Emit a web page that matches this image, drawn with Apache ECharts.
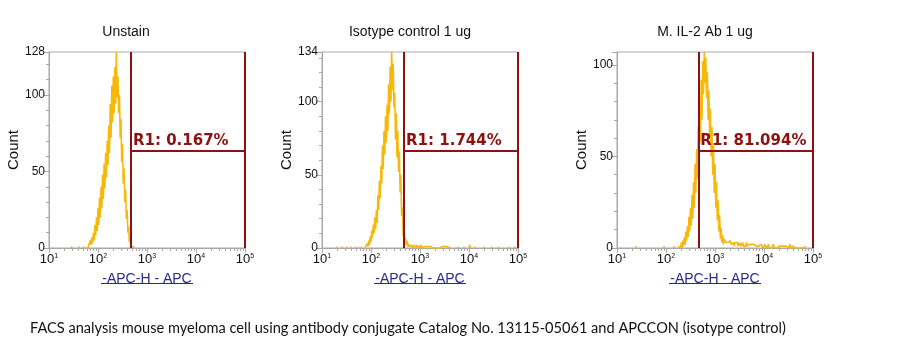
<!DOCTYPE html>
<html><head><meta charset="utf-8">
<script src="https://cdn.jsdelivr.net/npm/echarts@6/dist/echarts.min.js"></script>
<style>html,body{margin:0;padding:0;background:#fff}#c{width:905px;height:362px}</style>
</head><body><div id="c"></div>
<script>
// ---------- data ----------
const panelTitles = ['Unstain', 'Isotype control 1 ug', 'M. IL-2 Ab 1 ug'];
const yMax = [128, 134, 107];
const showYMaxLabel = [true, true, false];
const xMin = 10, xMax = 100000;
const minorTickValues = [20,30,40,50,60,70,80,90,200,300,400,500,600,700,800,900,2000,3000,4000,5000,6000,7000,8000,9000,20000,30000,40000,50000,60000,70000,80000,90000];
const gateLeft = [470, 473, 457];
const gateRight = [97000, 97000, 97000];
const gateLevel = [63.5, 66.5, 53];
const gateLabels = ['R1: 0.167%', 'R1: 1.744%', 'R1: 81.094%'];
const xAxisName = '-APC-H - APC';
const yAxisName = 'Count';
const caption = 'FACS analysis mouse myeloma cell using antibody conjugate Catalog No. 13115-05061 and APCCON (isotype control)';
const channelsPerDecade = 64; // 256 channels over 4 decades

// histogram counts per channel
const unstainStart = 48;
const unstainCounts = [0,0,1,0,2,1,5,2,7,3, 10,5,15,8,20,11,26,15,33,20, 40,26,48,32,55,39,62,46,70,54, 80,62,94,72,106,82,112,88,118,94, 128,98,112,88,100,72,84,56,68,42, 52,30,38,19,25,10,14,4,6,1, 2,0,1,0];
const unstainBlips = [[30,1],[40,1],[46,1]];

const isoStart = 56;
const isoCounts = [0,1,0,3,1,5,2,8,4,12, 7,16,10,21,13,26,17,36,26,46, 34,56,44,70,54,80,64,90,72,98, 80,112,92,124,100,134,108,126,96,106, 74,92,62,80,52,66,38,50,22,28, 8,14,4,7,2,5,1,
  3,1,2,1,2,0,1,2,1,1,0,2,1,0,1,1,2,0,1,0,1,2,0,1,1,0,1,0,2,1,0,1,0,1,1,0,0,1,0,1,0,0,1,0,1,0,0,1,0,0,1,0,0,0,1,0];
const isoBlips = [[20,1],[27,1],[33,1],[38,1],[44,1],[48,1],[52,1],[178,1],[186,1],[193,2],[200,1],[212,1],[222,1],[231,1],[245,1],[252,1]];

const il2Start = 80;
const il2Counts = [1,0,1,0,3,0,4,1,6,2, 9,4,12,6,17,9,22,12,29,16, 36,22,46,30,54,38,66,46,80,58, 92,70,102,84,107,90,104,82,96,70, 86,60,76,50,66,40,56,30,46,22, 36,15,26,9,18,5,11,3,7,2, 5,
  4,3,2,4,3,2,3,4,2,3, 2,3,1,3,2,2,3,1,2,3, 2,1,2,3,1,2,2,1,3,1, 2,1,2,2,1,2,1,1,2,1, 2,1,1,2,1,0,1,2,1,1, 0,1,2,1,0,1,1,2,0,1, 1,0,1,2,1,0,1,1,0,1, 0,1,2,0,1,1,0,1,0,1, 1,0,1,0,1,2,0,1,0,1, 0,1,0,0,1,0,1,1,0,0, 1,0,1,0,0,1];
const il2Blips = [[25,1],[62,1],[75,1]];

// ---------- build ----------
const chToVal = c => xMin * Math.pow(10, c / channelsPerDecade);
function buildSeriesData(start, counts, blips) {
  const out = counts.map((v, k) => [chToVal(start + k), v]);
  blips.forEach(([c, n]) => {
    out.push([chToVal(c - 1), null]);
    out.push([chToVal(c - 1), 0], [chToVal(c), n], [chToVal(c + 1), 0]);
  });
  return out;
}
const histData = [
  buildSeriesData(unstainStart, unstainCounts, unstainBlips),
  buildSeriesData(isoStart, isoCounts, isoBlips),
  buildSeriesData(il2Start, il2Counts, il2Blips)
];

const gridLayout = [
  {left: 49, top: 52, width: 196, height: 196},
  {left: 322, top: 52, width: 196, height: 196},
  {left: 617, top: 52, width: 196, height: 196}
];
const titleCenters = [126, 410, 705];
const axisGray = '#a8a8a8';
const gateColor = '#8e1111';
const histColor = '#f6b90a';
const nameBlue = '#2b2b8f';

const grids = [], xAxes = [], yAxes = [], series = [], titles = [], graphics = [];
for (let i = 0; i < 3; i++) {
  const g = gridLayout[i];
  grids.push(Object.assign({show: true, borderColor: axisGray, borderWidth: 1, containLabel: false}, g));
  xAxes.push({
    type: 'log', logBase: 10, min: xMin, max: xMax, gridIndex: i, position: 'bottom',
    axisLine: {show: true, lineStyle: {color: axisGray, width: 1}},
    axisTick: {show: true, length: 5, lineStyle: {color: axisGray}},
    splitLine: {show: false},
    axisLabel: {
      margin: 5, color: '#111', fontSize: 13, fontFamily: 'Liberation Sans',
      formatter: v => '10{e|' + Math.round(Math.log10(v)) + '}',
      rich: {e: {fontSize: 7, verticalAlign: 'top', lineHeight: 8, padding: [0, 0, 7, 0], color: '#111'}}
    },
    name: xAxisName, nameLocation: 'middle', nameGap: 21,
    nameTextStyle: {color: nameBlue, fontSize: 14, fontFamily: 'Liberation Sans'}
  });
  xAxes.push({
    type: 'log', logBase: 10, min: xMin, max: xMax, gridIndex: i, position: 'bottom', offset: 0,
    axisLine: {show: false},
    axisTick: {show: true, length: 3, customValues: minorTickValues, lineStyle: {color: axisGray}},
    axisLabel: {show: false}, splitLine: {show: false}
  });
  yAxes.push({
    type: 'value', min: 0, max: yMax[i], interval: 50, gridIndex: i,
    axisLine: {show: true, lineStyle: {color: axisGray}},
    axisTick: {show: true, length: 5, lineStyle: {color: axisGray}},
    minorTick: {show: true, splitNumber: 5, length: 3, lineStyle: {color: axisGray}},
    splitLine: {show: false},
    axisLabel: {margin: 4, color: '#111', fontSize: 12, fontFamily: 'Liberation Sans', showMaxLabel: showYMaxLabel[i]},
    name: yAxisName, nameLocation: 'middle', nameGap: 28, nameRotate: 90,
    nameTextStyle: {color: '#111', fontSize: 15, fontFamily: 'Liberation Sans'}
  });
  series.push({
    type: 'line', xAxisIndex: 2 * i, yAxisIndex: i, data: histData[i],
    showSymbol: false, symbol: 'none', connectNulls: false, animation: false,
    lineStyle: {color: histColor, width: 1.6}, z: 2, silent: true
  });
  series.push({
    type: 'line', xAxisIndex: 2 * i, yAxisIndex: i, data: [], z: 5, silent: true, animation: false,
    markLine: {
      silent: true, animation: false, symbol: ['none', 'none'],
      lineStyle: {color: gateColor, width: 2, type: 'solid'},
      label: {show: false},
      data: [
        [{coord: [gateLeft[i], 0]}, {coord: [gateLeft[i], yMax[i]]}],
        [{coord: [gateRight[i], 0]}, {coord: [gateRight[i], yMax[i]]}],
        [{coord: [gateLeft[i], gateLevel[i]],
          label: {show: true, position: 'insideStartTop', formatter: gateLabels[i], distance: [2, 2],
                  color: gateColor, fontSize: 15, fontWeight: 'bold', fontFamily: 'DejaVu Sans'}},
         {coord: [gateRight[i], gateLevel[i]]}]
      ]
    }
  });
  titles.push({
    text: panelTitles[i], left: titleCenters[i], top: 25, padding: 0, textAlign: 'center',
    textStyle: {fontSize: 14, fontWeight: 'normal', color: '#111', fontFamily: 'Liberation Sans'}
  });
  const cx = g.left + g.width / 2;
  graphics.push({type: 'rect', shape: {x: cx - 46, y: 283, width: 92, height: 1}, style: {fill: nameBlue}, silent: true});
}
titles.push({
  text: caption, left: 30, top: 321, padding: 0,
  textStyle: {fontSize: 14.6, fontWeight: 'normal', color: '#111', fontFamily: 'Lato'}
});

const chart = echarts.init(document.getElementById('c'), null, {renderer: 'canvas'});
chart.setOption({
  backgroundColor: '#fff', animation: false,
  title: titles, grid: grids, xAxis: xAxes, yAxis: yAxes, series: series, graphic: graphics
});
</script></body></html>
